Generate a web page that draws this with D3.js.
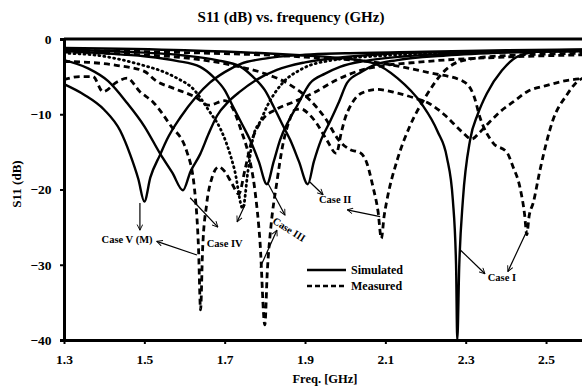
<!DOCTYPE html>
<html>
<head>
<meta charset="utf-8">
<script src="https://cdn.jsdelivr.net/npm/d3@7"></script>
<style>
  html, body { margin: 0; padding: 0; background: #fff; }
  svg { display: block; font-family: "Liberation Serif", "Times New Roman", serif; font-weight: bold; }
</style>
</head>
<body>
<svg id="chart" width="582" height="389"></svg>
<script>
// frequency in GHz, S11 in dB
const xTicks = [1.3, 1.5, 1.7, 1.9, 2.1, 2.3, 2.5];
const yTicks = [0, -10, -20, -30, -40];

// simulated (solid)
const simCaseV = [[1.3,-6.0],[1.35,-7.4],[1.40,-9.4],[1.44,-12.2],[1.465,-15.4],[1.485,-18.6],[1.50,-21.6],[1.515,-18.4],[1.54,-15.3],[1.556,-13.4],[1.59,-10.4],[1.63,-7.6],[1.663,-5.8],[1.70,-4.4],[1.74,-3.3],[1.80,-2.6],[1.90,-2.1],[2.0,-1.9],[2.2,-1.7],[2.4,-1.5],[2.6,-1.4]];
const simCaseIV = [[1.3,-2.8],[1.36,-3.9],[1.41,-5.6],[1.457,-8.5],[1.50,-11.6],[1.54,-15.3],[1.57,-17.8],[1.596,-20.1],[1.615,-17.6],[1.639,-15.3],[1.66,-12.6],[1.681,-10.2],[1.71,-8.3],[1.738,-7.0],[1.78,-5.4],[1.83,-4.1],[1.90,-3.1],[2.0,-2.4],[2.1,-2.0],[2.3,-1.7],[2.6,-1.5]];
const simCaseIII = [[1.3,-1.6],[1.4,-1.9],[1.5,-2.3],[1.58,-2.9],[1.639,-3.7],[1.671,-5.0],[1.70,-6.8],[1.721,-9.0],[1.745,-11.5],[1.763,-13.4],[1.785,-16.3],[1.805,-19.3],[1.822,-16.3],[1.838,-13.4],[1.86,-10.8],[1.88,-8.9],[1.912,-5.9],[1.95,-4.6],[1.987,-3.7],[2.05,-2.9],[2.15,-2.3],[2.3,-1.9],[2.6,-1.6]];
const simCaseII = [[1.3,-1.4],[1.45,-1.7],[1.6,-2.2],[1.68,-2.8],[1.74,-3.7],[1.77,-5.0],[1.80,-6.8],[1.822,-9.0],[1.845,-11.5],[1.863,-13.4],[1.885,-16.3],[1.907,-19.3],[1.922,-16.3],[1.94,-13.4],[1.962,-11.0],[1.985,-8.3],[2.005,-5.8],[2.04,-4.4],[2.07,-3.5],[2.13,-2.8],[2.25,-2.2],[2.4,-1.8],[2.6,-1.6]];
const simCaseI = [[1.3,-1.2],[1.6,-1.5],[1.8,-1.9],[1.9,-2.2],[2.0,-2.6],[2.07,-3.2],[2.13,-5.2],[2.19,-8.6],[2.23,-12.3],[2.253,-15.7],[2.268,-21.4],[2.276,-30],[2.279,-40],[2.284,-30],[2.293,-21.4],[2.311,-13.4],[2.33,-10.0],[2.353,-7.2],[2.39,-4.2],[2.43,-2.3],[2.49,-1.6],[2.6,-1.4]];

// measured (dashed, Case IV dotted)
const measCaseV = [[1.3,-5.4],[1.34,-5.0],[1.372,-5.0],[1.397,-7.0],[1.432,-5.7],[1.457,-5.2],[1.489,-7.0],[1.522,-8.4],[1.564,-11.4],[1.606,-15.0],[1.625,-20],[1.635,-28],[1.640,-36],[1.645,-28],[1.655,-22],[1.668,-18.5],[1.685,-17.0],[1.70,-17.6],[1.718,-19.2],[1.735,-20.6],[1.75,-17.5],[1.765,-14.0],[1.79,-11.0],[1.83,-9.3],[1.87,-8.4],[1.92,-7.2],[1.98,-5.4],[2.05,-4.0],[2.2,-3.0],[2.4,-2.4],[2.6,-2.1]];
const measCaseIV = [[1.3,-1.9],[1.372,-2.1],[1.43,-2.6],[1.497,-3.5],[1.55,-4.4],[1.581,-5.2],[1.621,-6.6],[1.663,-9.7],[1.69,-12],[1.706,-14.1],[1.725,-17.5],[1.745,-22.5],[1.758,-17.5],[1.771,-13.0],[1.79,-10.8],[1.805,-9.0],[1.845,-5.8],[1.888,-4.1],[1.97,-2.8],[2.1,-2.2],[2.3,-1.8],[2.6,-1.6]];
const measCaseIII = [[1.3,-3.0],[1.36,-3.1],[1.43,-3.5],[1.50,-4.3],[1.53,-5.6],[1.57,-6.5],[1.63,-7.8],[1.66,-8.8],[1.70,-8.2],[1.72,-9.2],[1.74,-12.0],[1.76,-15.5],[1.775,-20],[1.788,-27],[1.80,-38],[1.806,-31],[1.815,-25],[1.83,-19],[1.845,-14],[1.86,-11],[1.875,-9.4],[1.89,-9.3],[1.91,-10],[1.93,-11.3],[1.955,-13.5],[1.978,-15.2],[1.99,-12.5],[2.0,-10.5],[2.012,-9.0],[2.03,-7.6],[2.05,-7.0],[2.08,-6.7],[2.13,-7.2],[2.17,-7.8],[2.21,-8.6],[2.25,-10.2],[2.29,-12.3],[2.315,-13.3],[2.335,-12.4],[2.36,-11.0],[2.385,-9.7],[2.42,-8.3],[2.453,-7.0],[2.5,-6.2],[2.535,-5.7],[2.6,-5.2]];
const measCaseII = [[1.3,-1.7],[1.45,-2.0],[1.6,-2.5],[1.72,-3.5],[1.80,-4.6],[1.86,-6.0],[1.91,-8.0],[1.95,-10.5],[1.985,-13.5],[2.012,-14.7],[2.037,-15.1],[2.054,-16.5],[2.069,-19.6],[2.082,-23],[2.09,-26.5],[2.097,-23.5],[2.104,-21.4],[2.13,-16.0],[2.16,-11.7],[2.2,-7.7],[2.25,-4.1],[2.29,-2.9],[2.4,-2.2],[2.6,-1.9]];
const measCaseI = [[1.3,-1.5],[1.6,-1.8],[1.9,-2.4],[2.087,-3.2],[2.211,-4.5],[2.293,-5.6],[2.32,-7.5],[2.336,-10.5],[2.368,-13.8],[2.403,-15.1],[2.418,-17],[2.435,-19.7],[2.447,-23.5],[2.452,-26],[2.458,-23.5],[2.468,-21.8],[2.485,-17.4],[2.517,-10.8],[2.552,-7.4],[2.577,-5.7],[2.6,-5.0]];

// annotations: label position and arrows [from, to] (arrowhead at "to")
const labels = [
  { text: "Case V (M)", at: [1.457, -26.6], rot: 0 },
  { text: "Case IV", at: [1.70, -27.2], rot: 0 },
  { text: "Case III", at: [1.822, -24.0], rot: 32 },
  { text: "Case II", at: [1.975, -21.3], rot: 0 },
  { text: "Case I", at: [2.39, -31.7], rot: 0 }
];
const arrows = [
  [[1.489, -21.8], [1.489, -25.4]],
  [[1.631, -28.7], [1.531, -26.9]],
  [[1.614, -21.1], [1.683, -25.0]],
  [[1.751, -22.0], [1.731, -24.3]],
  [[1.807, -19.1], [1.85, -23.4]],
  [[1.788, -30.4], [1.83, -25.4]],
  [[1.912, -19.0], [1.945, -20.7]],
  [[2.087, -23.6], [2.005, -22.7]],
  [[2.286, -28.0], [2.348, -31.2]],
  [[2.453, -25.4], [2.405, -30.9]]
];

const svg = d3.select("svg#chart");
const plotLeft = 64, plotTop = 39, plotBottom = 340;

const x = d3.scaleLinear().domain([1.3, 2.6]).range([plotLeft, plotLeft + 1.3 * 401.7]);
const y = d3.scaleLinear().domain([-40, 0]).range([plotBottom, plotTop]);

let defs = svg.append("defs");
defs.append("clipPath").attr("id", "plotclip")
  .append("rect").attr("x", plotLeft).attr("y", plotTop).attr("width", 582 - plotLeft).attr("height", plotBottom - plotTop);

defs.append("marker")
  .attr("id", "arrowhead").attr("viewBox", "0 0 10 10")
  .attr("refX", 9).attr("refY", 5)
  .attr("markerWidth", 7).attr("markerHeight", 7)
  .attr("markerUnits", "userSpaceOnUse")
  .attr("orient", "auto")
  .append("path").attr("d", "M1,1 L9,5 L1,9")
  .attr("fill", "none").attr("stroke", "#000").attr("stroke-width", 1.3);

// title
svg.append("text").attr("x", 291).attr("y", 22).attr("text-anchor", "middle")
  .attr("font-size", 15).text("S11 (dB) vs. frequency (GHz)");

let line = d3.line().x(d => x(d[0])).y(d => y(d[1])).curve(d3.curveMonotoneX);

let g_data = svg.append("g").attr("clip-path", "url(#plotclip)");

let series = [
  { data: simCaseV, dash: null },
  { data: simCaseIV, dash: null },
  { data: simCaseIII, dash: null },
  { data: simCaseII, dash: null },
  { data: simCaseI, dash: null },
  { data: measCaseV, dash: "6,4" },
  { data: measCaseIII, dash: "6,4" },
  { data: measCaseII, dash: "6,4" },
  { data: measCaseI, dash: "6,4" },
  { data: measCaseIV, dash: "1,4", dotted: true }
];

g_data.selectAll("path.curve").data(series).enter()
  .append("path")
  .attr("class", "curve")
  .attr("d", d => line(d.data))
  .attr("fill", "none")
  .attr("stroke", "#000")
  .attr("stroke-width", d => d.dash ? 2.8 : 2.4)
  .attr("stroke-linecap", d => d.dotted ? "round" : "butt")
  .attr("stroke-dasharray", d => d.dash);

// axes
let axisLeft = d3.axisLeft(y).tickValues(yTicks).tickSize(4).tickFormat(d3.format("d"));
let g_y = svg.append("g").attr("transform", `translate(${plotLeft},0)`).call(axisLeft);
let axisBottom = d3.axisBottom(x).tickValues(xTicks).tickSize(4).tickFormat(d3.format(".1f"));
let g_x = svg.append("g").attr("transform", `translate(0,${plotBottom})`).call(axisBottom);

[g_x, g_y].forEach(g => {
  g.select(".domain").attr("stroke-width", 3).attr("stroke", "#000");
  g.selectAll(".tick line").attr("stroke-width", 2);
  g.selectAll(".tick text").attr("font-size", 13.5).attr("font-family", "Liberation Serif, serif")
    .attr("font-weight", "bold").attr("fill", "#000");
});
g_x.select(".domain").attr("d", `M${plotLeft},0.5H582`);
g_x.selectAll(".tick text").attr("dy", "1.25em");
g_y.selectAll(".tick text").attr("dx", "-0.4em");

// top line at 0 dB
svg.append("line").attr("x1", plotLeft).attr("x2", 582).attr("y1", y(0)).attr("y2", y(0))
  .attr("stroke", "#000").attr("stroke-width", 3);

// axis titles
svg.append("text").attr("x", 325).attr("y", 383).attr("text-anchor", "middle")
  .attr("font-size", 12.5).text("Freq. [GHz]");
svg.append("text").attr("transform", "translate(21,184) rotate(-90)")
  .attr("text-anchor", "middle").attr("font-size", 13).text("S11 (dB)");

// annotations
svg.append("g").selectAll("line").data(arrows).enter().append("line")
  .attr("x1", d => x(d[0][0])).attr("y1", d => y(d[0][1]))
  .attr("x2", d => x(d[1][0])).attr("y2", d => y(d[1][1]))
  .attr("stroke", "#000").attr("stroke-width", 1.2)
  .attr("marker-end", "url(#arrowhead)");

svg.append("g").selectAll("text").data(labels).enter().append("text")
  .attr("transform", d => `translate(${x(d.at[0])},${y(d.at[1])}) rotate(${d.rot})`)
  .attr("text-anchor", d => d.rot ? "start" : "middle")
  .attr("dy", "0.35em")
  .attr("font-size", 10.5).text(d => d.text);

// legend
const legendItems = [
  { name: "Simulated", dash: null },
  { name: "Measured", dash: "5,3" }
];
let g_leg = svg.append("g");
legendItems.forEach((item, i) => {
  let yy = 270 + i * 16;
  g_leg.append("line").attr("x1", 307).attr("x2", 346).attr("y1", yy).attr("y2", yy)
    .attr("stroke", "#000").attr("stroke-width", 2.4).attr("stroke-dasharray", item.dash);
  g_leg.append("text").attr("x", 351).attr("y", yy).attr("dy", "0.35em")
    .attr("font-size", 12).text(item.name);
});
</script>
</body>
</html>
